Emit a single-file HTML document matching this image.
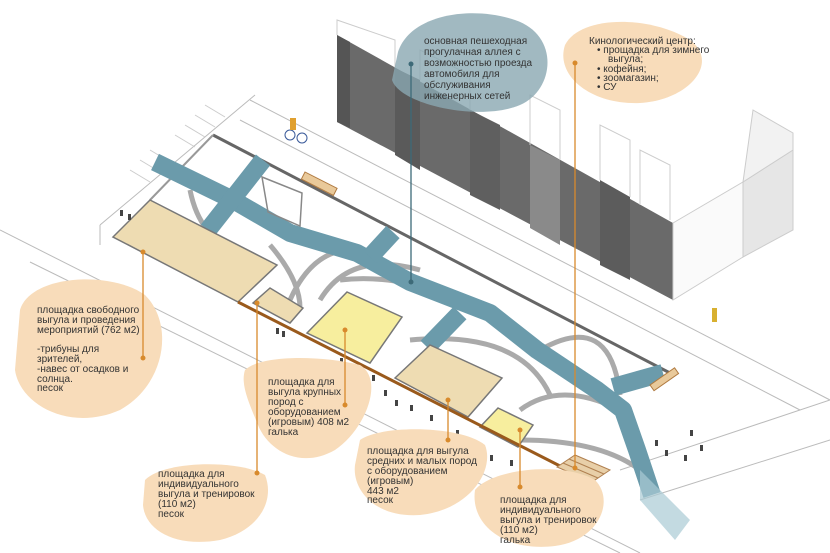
<!DOCTYPE html>
<html><head><meta charset="utf-8"><style>
html,body{margin:0;padding:0;background:#fff;}
svg{display:block;}
text{font-family:"Liberation Sans","DejaVu Sans",sans-serif;font-size:10px;fill:#333;}
</style></head><body>
<svg width="830" height="553" viewBox="0 0 830 553" xmlns="http://www.w3.org/2000/svg">
<rect width="830" height="553" fill="#fff"/>
<g stroke="#bbb" stroke-width="1" fill="none">
<line x1="0" y1="230" x2="640" y2="553"/>
<line x1="30" y1="262" x2="620" y2="553"/>
<line x1="100" y1="225" x2="100" y2="245"/>
<line x1="100" y1="225" x2="255" y2="95"/>
<line x1="250" y1="100" x2="830" y2="400"/>
<line x1="240" y1="120" x2="800" y2="410"/>
<line x1="620" y1="470" x2="830" y2="400"/>
<line x1="640" y1="500" x2="830" y2="440"/>
</g>
<g stroke="#ccc" stroke-width="1">
<line x1="130" y1="170" x2="150" y2="182"/><line x1="140" y1="160" x2="160" y2="172"/><line x1="150" y1="150" x2="170" y2="162"/>
<line x1="175" y1="135" x2="195" y2="147"/><line x1="185" y1="125" x2="205" y2="137"/><line x1="195" y1="115" x2="215" y2="127"/><line x1="205" y1="105" x2="225" y2="117"/>
</g>
<g>
<polygon points="337,35 673,223 673,300 337,122" fill="#6a6a6a"/>
<polygon points="337,35 350,42 350,128 337,122" fill="#555"/>
<polygon points="395,68 420,80 420,170 395,155" fill="#5a5a5a"/>
<polygon points="470,110 500,125 500,210 470,195" fill="#5f5f5f"/>
<polygon points="530,145 560,160 560,245 530,228" fill="#8a8a8a"/>
<polygon points="600,180 630,197 630,280 600,265" fill="#5c5c5c"/>
<polygon points="673,223 743,182 743,257 673,300" fill="#fafafa" stroke="#ccc"/>
<polygon points="743,182 793,150 793,230 743,257" fill="#e6e6e6" stroke="#ccc"/>
<polygon points="743,182 753,110 793,133 793,150" fill="#f2f2f2" stroke="#ccc"/>
<g stroke="#ccc" fill="none">
<polyline points="337,35 337,20 395,40 395,68"/>
<polyline points="420,80 420,50 470,75 470,110"/>
<polyline points="530,145 530,95 560,110 560,160"/>
<polyline points="600,180 600,125 630,140 630,197"/>
<polyline points="640,205 640,150 670,165 670,220"/>
</g>
</g>
<line x1="213" y1="135" x2="670" y2="373" stroke="#666" stroke-width="3"/>
<line x1="150" y1="200" x2="213" y2="135" stroke="#999" stroke-width="2"/>
<g stroke="#aaa" stroke-width="5" fill="none">
<path d="M190,190 Q200,240 240,250"/>
<path d="M270,245 Q300,280 300,308"/>
<path d="M320,300 Q350,250 420,270"/>
<path d="M290,300 Q310,255 345,250"/>
<path d="M340,280 Q420,270 520,330"/>
<path d="M410,340 Q520,330 550,395"/>
<path d="M520,410 Q560,380 620,410"/>
<path d="M520,440 Q600,440 640,470"/>
<path d="M540,350 Q610,310 620,395"/>
</g>
<g fill="none" stroke="#6b9bab" stroke-width="18" stroke-linejoin="round">
<polyline points="155,162 233,200 290,233 357,253 410,282 490,313 537,350 597,390 623,410 637,450 652,495"/>
<line x1="263" y1="160" x2="208" y2="230"/>
<line x1="393" y1="232" x2="370" y2="257"/>
<line x1="460" y1="313" x2="427" y2="347"/>
<line x1="613" y1="387" x2="663" y2="373"/>
</g>
<polygon points="640,470 690,520 675,540 640,500" fill="#a9cad4" opacity="0.7"/>
<polygon points="113,237 150,200 277,265 238,302" fill="#eedcb2" stroke="#777" stroke-width="1.5"/>
<polygon points="253,303 270,288 303,308 290,323" fill="#eedcb2" stroke="#777" stroke-width="1.5"/>
<polygon points="307,333 347,292 402,317 370,363" fill="#f7ee9e" stroke="#777" stroke-width="1.5"/>
<polygon points="395,378 430,345 502,378 468,417" fill="#eedcb2" stroke="#777" stroke-width="1.5"/>
<polygon points="480,427 498,408 533,425 518,447" fill="#f7ee9e" stroke="#777" stroke-width="1.5"/>
<polygon points="262,177 302,193 300,226 268,212" fill="none" stroke="#888" stroke-width="1.5"/>
<rect x="305" y="172" width="36" height="8" fill="#e9c99a" stroke="#b07a40" transform="rotate(27 305 172)"/>
<rect x="650" y="385" width="30" height="7" fill="#e9c99a" stroke="#b07a40" transform="rotate(-35 650 385)"/>
<line x1="238" y1="302" x2="560" y2="466" stroke="#9a5a1c" stroke-width="3"/>
<g fill="#e8cfa8" stroke="#b08050">
<polygon points="557,467 575,455 610,470 592,482"/>
<line x1="563" y1="463" x2="598" y2="478"/><line x1="569" y1="459" x2="604" y2="474"/>
</g>
<g fill="#444">
<rect x="276" y="328" width="3" height="6"/><rect x="282" y="331" width="3" height="6"/>
<rect x="340" y="358" width="3" height="6"/><rect x="352" y="372" width="3" height="6"/><rect x="362" y="378" width="3" height="6"/>
<rect x="372" y="375" width="3" height="6"/><rect x="384" y="390" width="3" height="6"/><rect x="395" y="400" width="3" height="6"/>
<rect x="410" y="405" width="3" height="6"/><rect x="430" y="415" width="3" height="6"/><rect x="456" y="430" width="3" height="6"/>
<rect x="470" y="445" width="3" height="6"/><rect x="490" y="455" width="3" height="6"/><rect x="510" y="460" width="3" height="6"/>
<rect x="535" y="470" width="3" height="6"/><rect x="655" y="440" width="3" height="6"/><rect x="665" y="450" width="3" height="6"/>
<rect x="690" y="430" width="3" height="6"/><rect x="700" y="445" width="3" height="6"/><rect x="684" y="455" width="3" height="6"/>
<rect x="120" y="210" width="3" height="6"/><rect x="128" y="214" width="3" height="6"/>
</g>
<circle cx="290" cy="135" r="5" fill="none" stroke="#3a5a9a"/><circle cx="302" cy="138" r="5" fill="none" stroke="#3a5a9a"/>
<rect x="290" y="118" width="6" height="12" fill="#e0a030"/>
<rect x="712" y="308" width="5" height="14" fill="#d8b030"/>
<path d="M398,52 C410,15 470,5 515,20 C560,35 555,90 520,105 C480,122 400,105 392,80 Z" fill="#8aa8b2" opacity="0.8"/>
<path d="M565,45 C580,15 650,15 690,40 C720,62 690,100 640,103 C590,105 555,75 565,45 Z" fill="#f8dcba"/>
<path d="M20,310 C30,275 110,270 145,295 C175,325 165,385 120,410 C70,432 20,405 15,370 Z" fill="#f8dcba"/>
<path d="M245,370 C260,355 320,355 360,365 C385,380 365,430 335,450 C300,470 268,450 258,425 C250,405 240,385 245,370 Z" fill="#f8dcba"/>
<path d="M145,480 C165,460 240,460 265,475 C275,500 260,530 220,540 C175,548 145,530 143,505 Z" fill="#f8dcba"/>
<path d="M360,440 C380,425 460,425 485,445 C495,470 470,510 420,515 C375,518 352,490 355,465 Z" fill="#f8dcba"/>
<path d="M475,490 C490,470 560,460 595,480 C615,500 600,540 555,546 C505,552 470,525 475,490 Z" fill="#f8dcba"/>
<g stroke-width="1.3">
<line x1="411" y1="64" x2="411" y2="282" stroke="#3d6a78"/>
<line x1="575" y1="63" x2="575" y2="468" stroke="#d88a2c"/>
<line x1="143" y1="252" x2="143" y2="358" stroke="#d88a2c"/>
<line x1="257" y1="303" x2="257" y2="473" stroke="#d88a2c"/>
<line x1="345" y1="330" x2="345" y2="405" stroke="#d88a2c"/>
<line x1="448" y1="400" x2="448" y2="440" stroke="#d88a2c"/>
<line x1="520" y1="430" x2="520" y2="487" stroke="#d88a2c"/>
</g>
<g fill="#d88a2c">
<circle cx="575" cy="63" r="2.5"/><circle cx="575" cy="468" r="2.5"/>
<circle cx="143" cy="252" r="2.5"/><circle cx="143" cy="358" r="2.5"/>
<circle cx="257" cy="303" r="2.5"/><circle cx="257" cy="473" r="2.5"/>
<circle cx="345" cy="330" r="2.5"/><circle cx="345" cy="405" r="2.5"/>
<circle cx="448" cy="400" r="2.5"/><circle cx="448" cy="440" r="2.5"/>
<circle cx="520" cy="430" r="2.5"/><circle cx="520" cy="487" r="2.5"/>
</g>
<circle cx="411" cy="64" r="2.5" fill="#3d6a78"/><circle cx="411" cy="282" r="2.5" fill="#3d6a78"/>
<text x="424" y="44">основная пешеходная</text>
<text x="424" y="55">прогулачная аллея с</text>
<text x="424" y="66">возможностью проезда</text>
<text x="424" y="77">автомобиля для</text>
<text x="424" y="88">обслуживания</text>
<text x="424" y="99">инженерных сетей</text>
<text x="589" y="44">Кинологический центр:</text>
<text x="597" y="53">•  прощадка для зимнего</text>
<text x="608" y="62">выгула;</text>
<text x="597" y="72">•  кофейня;</text>
<text x="597" y="81">•  зоомагазин;</text>
<text x="597" y="90">•  СУ</text>
<text x="37" y="313">площадка свободного</text>
<text x="37" y="323">выгула и проведения</text>
<text x="37" y="333">мероприятий (762 м2)</text>
<text x="37" y="352">-трибуны для</text>
<text x="37" y="362">зрителей,</text>
<text x="37" y="372">-навес от осадков и</text>
<text x="37" y="382">солнца.</text>
<text x="37" y="391">песок</text>
<text x="268" y="385">площадка для</text>
<text x="268" y="395">выгула крупных</text>
<text x="268" y="405">пород с</text>
<text x="268" y="415">оборудованием</text>
<text x="268" y="425">(игровым) 408 м2</text>
<text x="268" y="435">галька</text>
<text x="158" y="477">площадка для</text>
<text x="158" y="487">индивидуального</text>
<text x="158" y="497">выгула и тренировок</text>
<text x="158" y="507">(110 м2)</text>
<text x="158" y="517">песок</text>
<text x="367" y="454">площадка для выгула</text>
<text x="367" y="464">средних и малых пород</text>
<text x="367" y="474">с оборудованием</text>
<text x="367" y="484">(игровым)</text>
<text x="367" y="494">443 м2</text>
<text x="367" y="503">песок</text>
<text x="500" y="503">площадка для</text>
<text x="500" y="513">индивидуального</text>
<text x="500" y="523">выгула и тренировок</text>
<text x="500" y="533">(110 м2)</text>
<text x="500" y="543">галька</text>
</svg>
</body></html>
